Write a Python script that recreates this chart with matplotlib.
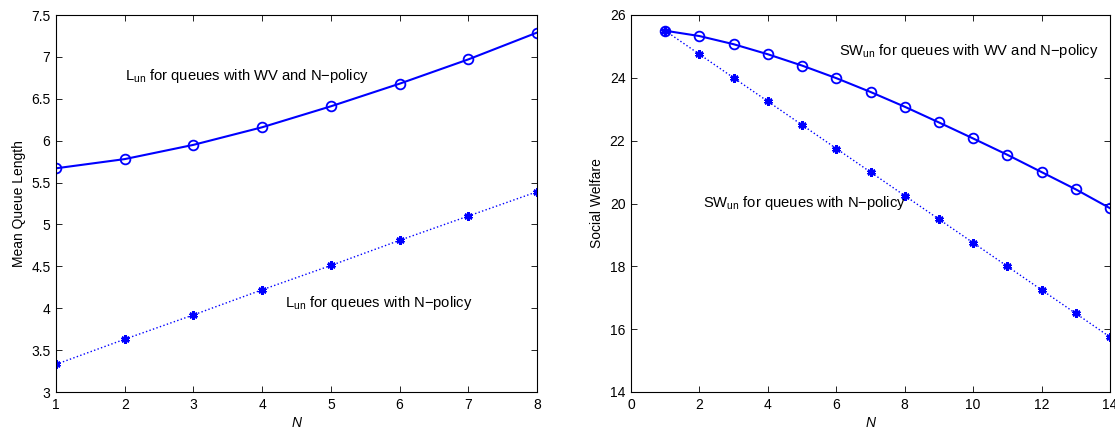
import matplotlib
matplotlib.use("Agg")
import matplotlib.pyplot as plt

plt.rcParams['font.family'] = ['Liberation Sans', 'DejaVu Sans']
plt.rcParams['mathtext.fontset'] = 'custom'
plt.rcParams['mathtext.rm'] = 'Liberation Sans'
plt.rcParams['mathtext.it'] = 'Liberation Sans:italic'

# Left panel data
n_left = [1, 2, 3, 4, 5, 6, 7, 8]
mql_wv = [5.67, 5.78, 5.95, 6.16, 6.41, 6.68, 6.97, 7.29]
mql_n = [3.33, 3.63, 3.92, 4.22, 4.51, 4.81, 5.10, 5.39]
left_yticks = [3, 3.5, 4, 4.5, 5, 5.5, 6, 6.5, 7, 7.5]
left_yticklabels = ['3', '3.5', '4', '4.5', '5', '5.5', '6', '6.5', '7', '7.5']

# Right panel data
n_right = [1, 2, 3, 4, 5, 6, 7, 8, 9, 10, 11, 12, 13, 14]
sw_wv = [25.5, 25.33, 25.07, 24.75, 24.39, 23.99, 23.55, 23.08, 22.58, 22.07, 21.55, 21.0, 20.45, 19.85]
sw_n = [25.5, 24.75, 24.0, 23.25, 22.5, 21.75, 21.0, 20.25, 19.5, 18.75, 18.0, 17.25, 16.5, 15.75]
right_xticks = [0, 2, 4, 6, 8, 10, 12, 14]
right_yticks = [14, 16, 18, 20, 22, 24, 26]

blue = (0, 0, 1)
fs = 10
fs_txt = 10.6

W, H = 1115, 434
fig = plt.figure(figsize=(W / 100, H / 100), dpi=100)
ax1 = fig.add_axes([56 / W, (H - 392) / H, 481 / W, 377 / H])
ax2 = fig.add_axes([631 / W, (H - 392) / H, 479 / W, 377 / H])

ax1.plot(n_left, mql_wv, '-', color=blue, lw=1.5, marker='o', ms=7,
         mfc='none', mec=blue, mew=1.3)
ax1.plot(n_left, mql_n, ':', color=blue, lw=1.0, marker=(6, 2, 0), ms=6,
         mec=blue, mew=1.9)
ax1.set_xlim(1, 8)
ax1.set_ylim(3, 7.5)
ax1.set_xticks(n_left)
ax1.set_yticks(left_yticks)
ax1.set_yticklabels(left_yticklabels)
ax1.set_xlabel('N', fontsize=fs, style='italic', labelpad=3)
ax1.set_ylabel('Mean Queue Length', fontsize=fs, labelpad=4)
ax1.text(2.0, 6.72, r'L$_{\rm un}$ for queues with WV and N$-$policy', fontsize=fs_txt)
ax1.text(4.33, 4.02, r'L$_{\rm un}$ for queues with N$-$policy', fontsize=fs_txt)

ax2.plot(n_right, sw_wv, '-', color=blue, lw=1.5, marker='o', ms=7,
         mfc='none', mec=blue, mew=1.3)
ax2.plot(n_right, sw_n, ':', color=blue, lw=1.0, marker=(6, 2, 0), ms=6,
         mec=blue, mew=1.9)
ax2.set_xlim(0, 14)
ax2.set_ylim(14, 26)
ax2.set_xticks(right_xticks)
ax2.set_yticks(right_yticks)
ax2.set_xlabel('N', fontsize=fs, style='italic', labelpad=3)
ax2.set_ylabel('Social Welfare', fontsize=fs, labelpad=4)
ax2.text(6.07, 24.72, r'SW$_{\rm un}$ for queues with WV and N$-$policy', fontsize=fs_txt)
ax2.text(2.09, 19.90, r'SW$_{\rm un}$ for queues with N$-$policy', fontsize=fs_txt)

for ax in (ax1, ax2):
    ax.tick_params(direction='in', top=True, right=True, labelsize=fs,
                   length=4, width=0.6, pad=4)
    for s in ax.spines.values():
        s.set_linewidth(0.8)

fig.savefig('out.png', dpi=100)
